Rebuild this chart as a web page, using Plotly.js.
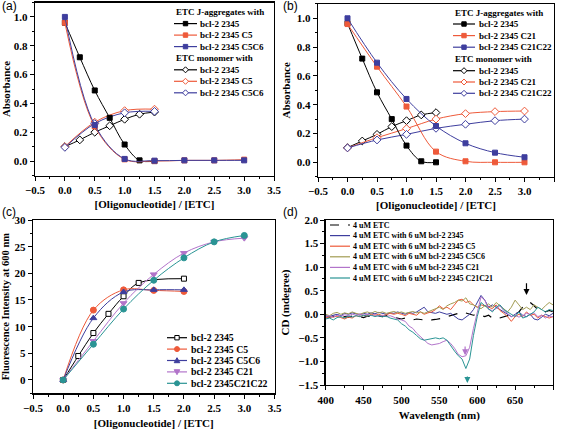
<!DOCTYPE html>
<html><head><meta charset="utf-8">
<script src="https://cdn.plot.ly/plotly-3.0.1.min.js"></script>
<style>html,body{margin:0;padding:0;background:#fff}#chart{width:561px;height:429px}</style>
</head><body><div id="chart"></div>
<script>
// ================= DATA =================
// Panel (a) & (b): absorbance vs [Oligonucleotide]/[ETC]
const ratioQuarter = [0, 0.25, 0.5, 0.75, 1.0, 1.25, 1.5];
const ratioHalf    = [0, 0.5, 1.0, 1.5, 2.0, 2.5, 3.0];
const ratioShort   = [0, 0.5, 1.0, 1.5];

const aJ_2345   = [0.96, 0.72, 0.49, 0.30, 0.115, 0.005, 0.0];
const aJ_C5     = [0.96, 0.24, 0.012, 0.0, 0.005, 0.005, 0.01];
const aJ_C5C6   = [1.0, 0.25, 0.015, 0.003, 0.005, 0.005, 0.005];
const aM_2345   = [0.10, 0.147, 0.20, 0.245, 0.29, 0.325, 0.34];
const aM_C5     = [0.10, 0.27, 0.35, 0.36];
const aM_C5C6   = [0.095, 0.26, 0.335, 0.345];

const bJ_2345   = [0.965, 0.72, 0.486, 0.30, 0.116, 0.007, 0.0];
const bJ_C21    = [0.96, 0.664, 0.387, 0.074, 0.007, 0.0, 0.0];
const bJ_C21C22 = [1.0, 0.692, 0.44, 0.252, 0.132, 0.067, 0.035];
const bM_2345   = [0.102, 0.148, 0.194, 0.248, 0.289, 0.329, 0.345];
const bM_C21    = [0.10, 0.171, 0.234, 0.30, 0.338, 0.352, 0.356];
const bM_C21C22 = [0.10, 0.155, 0.194, 0.236, 0.264, 0.289, 0.30];

// Panel (c): fluorescence intensity at 600 nm
const ratioC2345 = [0, 0.25, 0.5, 0.75, 1.0, 1.25, 2.0];
const ratioC5    = [0, 0.5, 1.0, 1.5, 2.0];
const c_2345     = [0, 4.5, 8.8, 12.4, 15.7, 18.2, 19.0];
const c_C5       = [0, 13.1, 16.9, 16.8, 16.6];
const c_C5C6     = [0, 11.6, 16.5, 16.9, 16.9];
const c_C21      = [0, 7.3, 14.4, 19.8, 23.8, 25.9, 26.6];
const c_C21C22   = [0, 6.7, 13.3, 18.7, 22.9, 25.9, 27.1];

// Panel (d): CD spectra
const wavelength = [400,405,410,415,420,425,430,435,440,445,450,455,460,465,470,475,480,485,490,495,
  500,505,510,515,520,525,530,535,540,545,550,555,560,565,570,575,580,585,590,595,
  600,605,610,615,620,625,630,635,640,645,650,655,660,665,670,675,680,685,690,695,700];
const cd_ETC = [-0.05,-0.06,-0.04,-0.05,-0.07,-0.05,-0.06,-0.04,-0.06,-0.05,-0.07,-0.04,-0.05,-0.06,-0.04,-0.05,-0.03,-0.05,-0.06,-0.08,
  -0.10,-0.08,-0.10,-0.12,-0.10,-0.11,-0.12,-0.10,-0.12,-0.11,-0.10,-0.08,-0.05,-0.03,0.00,0.02,0.05,0.03,0.00,-0.02,
  0.00,-0.03,-0.05,-0.02,-0.08,-0.10,-0.08,-0.05,-0.03,-0.05,0.00,0.05,0.15,0.20,0.25,0.18,0.10,0.12,0.05,0.08,0.05];
const cd_2345 = [-0.03,-0.05,-0.02,0.00,-0.03,0.02,0.00,0.03,0.01,-0.02,0.02,0.00,0.03,0.01,0.04,0.02,0.00,0.03,0.02,0.05,
  0.03,0.00,0.04,0.02,0.05,0.10,0.15,0.05,0.03,0.02,0.05,0.03,0.00,0.02,-0.05,-0.10,-0.12,-0.05,0.00,0.10,
  0.25,0.40,0.30,0.15,0.20,0.15,0.10,0.05,0.00,-0.05,0.00,0.05,-0.02,-0.05,0.00,-0.10,-0.12,-0.05,0.00,-0.03,0.02];
const cd_C5 = [-0.08,-0.05,-0.06,-0.04,-0.07,-0.10,-0.06,-0.08,-0.03,-0.05,-0.02,-0.04,0.00,-0.02,0.00,-0.03,-0.01,0.02,0.00,0.02,
  0.00,-0.03,0.02,0.00,-0.02,0.05,0.00,0.03,0.05,0.10,0.18,0.12,0.15,0.10,0.20,0.30,0.32,0.25,0.28,0.20,
  0.15,0.20,0.18,0.15,0.12,0.20,0.08,0.02,-0.05,-0.15,-0.05,0.00,-0.05,0.05,-0.02,0.00,-0.08,-0.02,-0.05,-0.08,-0.05];
const cd_C5C6 = [0.00,-0.03,0.02,0.04,0.00,0.03,0.01,0.05,0.02,0.00,0.03,0.05,0.02,0.06,0.03,0.05,0.02,0.04,0.06,0.03,
  0.05,0.02,0.04,0.06,0.03,0.05,0.02,0.05,0.08,0.12,0.15,0.10,0.18,0.22,0.25,0.30,0.28,0.35,0.22,0.20,
  0.15,0.12,0.18,0.22,0.15,0.25,0.18,0.10,0.05,0.15,0.30,0.20,0.10,0.15,0.10,0.20,0.15,0.10,0.18,0.25,0.20];
const cd_C21 = [-0.05,-0.03,-0.06,-0.02,-0.04,-0.01,-0.03,0.00,-0.02,0.01,-0.02,0.00,-0.03,-0.01,-0.04,-0.02,-0.05,-0.03,-0.06,-0.10,
  -0.12,-0.15,-0.25,-0.30,-0.40,-0.48,-0.55,-0.62,-0.65,-0.63,-0.62,-0.58,-0.55,-0.62,-0.72,-0.85,-0.90,-0.88,-0.70,-0.30,
  0.05,0.37,0.30,0.10,0.08,0.12,0.18,0.08,0.02,-0.05,-0.02,-0.06,-0.03,0.02,0.00,0.03,-0.05,-0.02,-0.08,-0.04,-0.05];
const cd_C21C21 = [-0.10,-0.08,-0.12,-0.07,-0.05,-0.08,-0.04,-0.06,-0.03,-0.05,-0.02,-0.04,-0.02,-0.05,-0.03,-0.05,-0.04,-0.08,-0.10,-0.12,
  -0.20,-0.25,-0.33,-0.38,-0.45,-0.52,-0.55,-0.53,-0.52,-0.50,-0.52,-0.50,-0.55,-0.68,-0.78,-0.88,-0.95,-1.15,-0.95,-0.45,
  -0.05,0.25,0.18,0.10,0.05,0.15,0.20,0.10,0.05,0.00,-0.05,0.05,-0.08,-0.05,0.00,0.05,0.15,0.10,0.05,0.10,0.08];

// Labels
const labelsA = ['bcl-2 2345', 'bcl-2 2345 C5', 'bcl-2 2345 C5C6'];
const labelsB = ['bcl-2 2345', 'bcl-2 2345 C21', 'bcl-2 2345 C21C22'];
const labelsC = ['bcl-2 2345', 'bcl-2 2345 C5', 'bcl-2 2345 C5C6', 'bcl-2 2345 C21', 'bcl-2 2345C21C22'];
const labelsD = ['4 uM ETC', '4 uM ETC with 6 uM bcl-2 2345', '4 uM ETC with 6 uM bcl-2 2345 C5',
  '4 uM ETC with 6 uM bcl-2 2345 C5C6', '4 uM ETC with 6 uM bcl-2 2345 C21', '4 uM ETC with 6 uM bcl-2 2345 C21C21'];
const headerJ = 'ETC J-aggregates with';
const headerM = 'ETC monomer with';
const xTitleRatio = '[Oligonucleotide] / [ETC]';

// ================= STYLE =================
const W = 561, H = 429;
const PX = v => v / W, PY = v => 1 - v / H;
const F = '"Liberation Serif", "Times New Roman", serif';
const BLACK = '#000000', RED = '#EE5A3A', BLUE = '#3E3E9E', OLIVE = '#A29C52', PURPLE = '#B274CA', TEAL = '#2A9494';

function xAxis(dom, range, dtick, mdt, fmt, title, anchor, standoff, tsize) {
  return {domain: [PX(dom[0]), PX(dom[1])], range, anchor, dtick, tick0: 0, tickformat: fmt,
    ticks: 'outside', ticklen: 4, tickwidth: 1, tickcolor: '#000',
    minor: {dtick: mdt, ticks: 'outside', ticklen: 2, tickwidth: 1, tickcolor: '#000'},
    showline: true, linecolor: '#000', linewidth: 1.3, mirror: true, showgrid: false, zeroline: false,
    tickfont: {family: F, size: 11, weight: 'bold', color: '#000'},
    title: {text: title, font: {family: F, size: tsize || 11, weight: 'bold', color: '#000'}, standoff},
    automargin: false, fixedrange: true};
}
function yAxis(dom, range, dtick, mdt, fmt, title, anchor, standoff, tsize) {
  const a = xAxis([0, 1], range, dtick, mdt, fmt, title, anchor, standoff, tsize);
  a.domain = [PY(dom[1]), PY(dom[0])];
  return a;
}

function line(x, y, xa, ya, color, opt) {
  opt = opt || {};
  const t = {x, y, xaxis: xa, yaxis: ya, type: 'scatter', mode: opt.sym ? 'lines+markers' : 'lines',
    line: {color, width: opt.w || 1, shape: opt.shape || 'spline', dash: opt.dash || 'solid'},
    hoverinfo: 'skip', showlegend: false};
  if (opt.sym) t.marker = {symbol: opt.sym, size: opt.size || 5,
    color: opt.open ? '#ffffff' : color, line: {color, width: 1}};
  return t;
}

const traces = [
  // (a)
  line(ratioQuarter, aM_2345, 'x', 'y', BLACK, {sym: 'diamond', open: true, size: 6}),
  line(ratioShort, aM_C5, 'x', 'y', RED, {sym: 'diamond', open: true, size: 6}),
  line(ratioShort, aM_C5C6, 'x', 'y', BLUE, {sym: 'diamond', open: true, size: 6}),
  line(ratioQuarter, aJ_2345, 'x', 'y', BLACK, {sym: 'square'}),
  line(ratioHalf, aJ_C5, 'x', 'y', RED, {sym: 'square'}),
  line(ratioHalf, aJ_C5C6, 'x', 'y', BLUE, {sym: 'square'}),
  // (b)
  line(ratioQuarter, bM_2345, 'x2', 'y2', BLACK, {sym: 'diamond', open: true, size: 6}),
  line(ratioHalf, bM_C21, 'x2', 'y2', RED, {sym: 'diamond', open: true, size: 6}),
  line(ratioHalf, bM_C21C22, 'x2', 'y2', BLUE, {sym: 'diamond', open: true, size: 6}),
  line(ratioQuarter, bJ_2345, 'x2', 'y2', BLACK, {sym: 'square'}),
  line(ratioHalf, bJ_C21, 'x2', 'y2', RED, {sym: 'square'}),
  line(ratioHalf, bJ_C21C22, 'x2', 'y2', BLUE, {sym: 'square'}),
  // (c)
  line(ratioC2345, c_2345, 'x3', 'y3', BLACK, {sym: 'square', open: true}),
  line(ratioC5, c_C5, 'x3', 'y3', RED, {sym: 'circle', size: 6}),
  line(ratioC5, c_C5C6, 'x3', 'y3', BLUE, {sym: 'triangle-up', size: 6}),
  line(ratioHalf, c_C21, 'x3', 'y3', PURPLE, {sym: 'triangle-down', size: 6}),
  line(ratioHalf, c_C21C22, 'x3', 'y3', TEAL, {sym: 'circle', size: 6}),
  // (d)
  line(wavelength, cd_ETC, 'x4', 'y4', BLACK, {dash: 'dash', shape: 'linear', w: 1.2}),
  line(wavelength, cd_2345, 'x4', 'y4', BLUE, {shape: 'linear'}),
  line(wavelength, cd_C5, 'x4', 'y4', RED, {shape: 'linear'}),
  line(wavelength, cd_C5C6, 'x4', 'y4', OLIVE, {shape: 'linear'}),
  line(wavelength, cd_C21, 'x4', 'y4', PURPLE, {shape: 'linear'}),
  line(wavelength, cd_C21C21, 'x4', 'y4', TEAL, {shape: 'linear'})
];

// ================= MANUAL LEGENDS =================
const shapes = [], annotations = [];
function marker(cx, cy, color, sym, open) {
  const fill = open ? '#ffffff' : color;
  const base = {xref: 'paper', yref: 'paper', xsizemode: 'pixel', ysizemode: 'pixel',
    xanchor: PX(cx), yanchor: PY(cy), fillcolor: fill, line: {color, width: 1}, layer: 'above'};
  if (sym === 'square') Object.assign(base, {type: 'rect', x0: -2.2, x1: 2.2, y0: -2.2, y1: 2.2});
  else if (sym === 'circle') Object.assign(base, {type: 'circle', x0: -2.5, x1: 2.5, y0: -2.5, y1: 2.5});
  else if (sym === 'diamond') Object.assign(base, {type: 'path', path: 'M0,3L3,0L0,-3L-3,0Z'});
  else if (sym === 'triangle-up') Object.assign(base, {type: 'path', path: 'M-2.8,-2.2L2.8,-2.2L0,2.8Z'});
  else if (sym === 'triangle-down') Object.assign(base, {type: 'path', path: 'M-2.8,2.2L2.8,2.2L0,-2.8Z'});
  shapes.push(base);
}
function text(x, y, t, size, anchor) {
  annotations.push({xref: 'paper', yref: 'paper', x: PX(x), y: PY(y), text: t, showarrow: false,
    xanchor: anchor || 'left', yanchor: 'middle', font: {family: F, size, weight: 'bold', color: '#000'}});
}
function entry(x0, x1, tx, y, color, label, size, sym, open, dash) {
  shapes.push({type: 'line', xref: 'paper', yref: 'paper', x0: PX(x0), x1: PX(x1), y0: PY(y), y1: PY(y),
    line: {color, width: 1.2, dash: dash || 'solid'}, layer: 'above'});
  if (sym) marker((x0 + x1) / 2, y, color, sym, open);
  text(tx, y, label, size);
}
const colsAB = [BLACK, RED, BLUE];
// (a)
text(174, 12.3, headerJ, 9);
labelsA.forEach((l, i) => entry(174, 197, 198, 23.6 + i * 11.5, colsAB[i], l, 9, 'square', false));
text(174, 58.3, headerM, 9);
labelsA.forEach((l, i) => entry(174, 197, 198, 69.8 + i * 11.5, colsAB[i], l, 9, 'diamond', true));
// (b)
text(453, 12.7, headerJ, 9);
labelsB.forEach((l, i) => entry(453, 475, 477, 24 + i * 11.6, colsAB[i], l, 9, 'square', false));
text(453, 59.3, headerM, 9);
labelsB.forEach((l, i) => entry(453, 475, 477, 70.7 + i * 11.3, colsAB[i], l, 9, 'diamond', true));
// (c)
const colsC = [BLACK, RED, BLUE, PURPLE, TEAL];
const symsC = [['square', true], ['circle', false], ['triangle-up', false], ['triangle-down', false], ['circle', false]];
labelsC.forEach((l, i) => entry(167, 187, 189, 337.7 + i * 11.4, colsC[i], l, 9.8, symsC[i][0], symsC[i][1]));
// (d)
const colsD = [BLACK, BLUE, RED, OLIVE, PURPLE, TEAL];
labelsD.forEach((l, i) => entry(330, 350, 351, 225 + i * 10.6, colsD[i], l, 8, null, false, i === 0 ? 'dash' : 'solid'));

// panel labels
[['(a)', 0, 6.5], ['(b)', 281, 6.5], ['(c)', 0, 212], ['(d)', 281, 212]].forEach(p => {
  annotations.push({xref: 'paper', yref: 'paper', x: PX(p[1]), y: PY(p[2]), text: p[0], showarrow: false,
    xanchor: 'left', yanchor: 'middle', font: {family: '"Liberation Sans", Arial, sans-serif', size: 12, color: '#000'}});
});

// arrows in (d)
[[665, 0.41, 0.69, BLACK], [584, -0.87, -0.65, PURPLE], [587, -1.46, -1.29, TEAL]].forEach(a => {
  annotations.push({xref: 'x4', yref: 'y4', x: a[0], y: a[1], axref: 'x4', ayref: 'y4', ax: a[0], ay: a[2],
    text: '', showarrow: true, arrowhead: 2, arrowsize: 1, arrowwidth: 1.2, arrowcolor: a[3]});
});

const layout = {
  width: W, height: H, margin: {l: 0, r: 0, t: 0, b: 0}, paper_bgcolor: '#fff', plot_bgcolor: '#fff',
  showlegend: false,
  xaxis:  xAxis([35, 274], [-0.5, 3.5], 0.5, 0.25, '.1f', xTitleRatio, 'y', 5),
  yaxis:  yAxis([2.5, 175.5], [-0.1, 1.1], 0.2, 0.1, '.1f', 'Absorbance', 'x', 4),
  xaxis2: xAxis([318, 554], [-0.5, 3.5], 0.5, 0.25, '.1f', xTitleRatio, 'y2', 5),
  yaxis2: yAxis([3.9, 176.7], [-0.1, 1.1], 0.2, 0.1, '.1f', 'Absorbance', 'x2', 4),
  xaxis3: xAxis([33, 274.5], [-0.5, 3.5], 0.5, 0.25, '.1f', xTitleRatio, 'y3', 6),
  yaxis3: yAxis([220, 393.3], [-2.5, 30], 5, 2.5, 'd', 'Fluorescence Intensity at 600 nm', 'x3', 5, 10.5),
  xaxis4: xAxis([325.7, 553], [400, 700], 50, 25, 'd', 'Wavelength (nm)', 'y4', 6),
  yaxis4: yAxis([220, 385], [-1.5, 2.0], 0.5, 0.25, '.1f', 'CD (mdegree)', 'x4', 6),
  shapes, annotations
};

Plotly.newPlot('chart', traces, layout, {staticPlot: true, displayModeBar: false});
</script></body></html>
